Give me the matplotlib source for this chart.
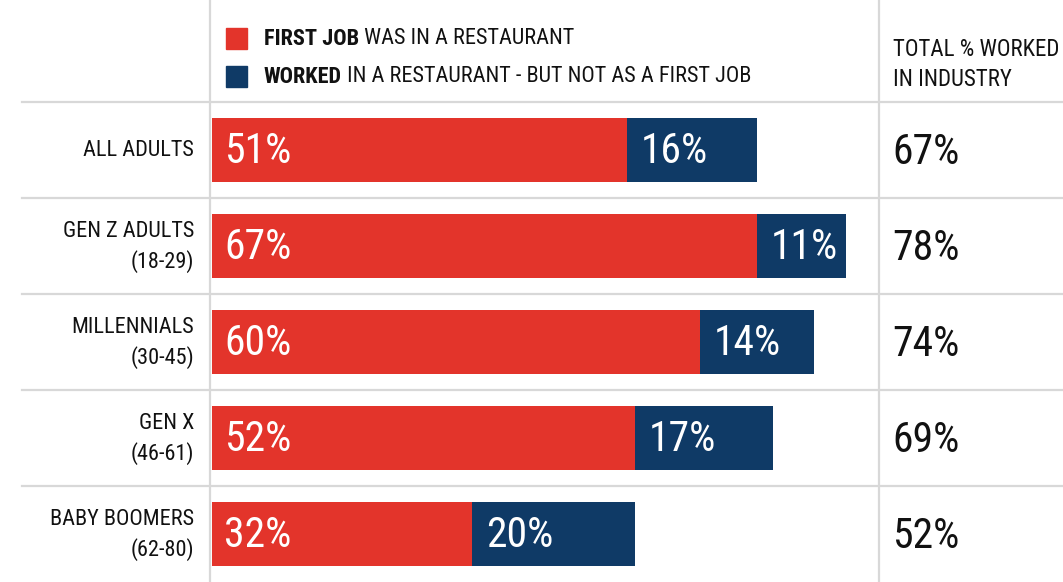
import matplotlib
matplotlib.use("Agg")
import matplotlib.pyplot as plt
from matplotlib import font_manager
from matplotlib.lines import Line2D
from matplotlib.patches import Rectangle

groups = ["ALL ADULTS", "GEN Z ADULTS\n(18-29)", "MILLENNIALS\n(30-45)",
          "GEN X\n(46-61)", "BABY BOOMERS\n(62-80)"]
first_job = [51, 67, 60, 52, 32]
later_job = [16, 11, 14, 17, 20]
total = [67, 78, 74, 69, 52]

RED = "#e3342b"
NAVY = "#0f3a66"
GRID = "#d8d8d8"
INK = "#111111"

# pick the narrowest face we can find
fonts = font_manager.fontManager.ttflist
names = {f.name for f in fonts}
STRETCH = "normal"
FONT = ["Roboto", "DejaVu Sans"]
for cand in ["Liberation Sans Narrow", "Roboto Condensed", "Open Sans Condensed",
             "Noto Sans Condensed", "Arial Narrow"]:
    if cand in names:
        FONT = [cand, "DejaVu Sans"]
        break
else:
    cond = [f for f in fonts if f.stretch in ("condensed", "semi-condensed")
            or "Condensed" in f.fname]
    if cond:
        FONT = [cond[0].name, "DejaVu Sans"]
        STRETCH = "condensed"

W, H = 1063, 582
fig = plt.figure(figsize=(W / 100, H / 100), dpi=100)
fig.patch.set_facecolor("white")
TXT = dict(family=FONT, fontstretch=STRETCH)


def fx(px):
    return px / W


def fy(py):
    return 1 - py / H


# bar panel: five rows from y=102 to the bottom edge
ax = fig.add_axes([fx(212), 0, fx(879) - fx(212), 480 / H])
ax.set_xlim(0, 82)
ax.set_ylim(4.5, -0.5)
ax.axis("off")

rows = range(len(groups))
ax.barh(rows, first_job, height=0.67, color=RED)
ax.barh(rows, later_job, left=first_job, height=0.67, color=NAVY)

for i in rows:
    ax.annotate(f"{first_job[i]}%", (0, i), xytext=(9, -1), textcoords="offset points",
                color="white", fontsize=30, va="center", ha="left", **TXT)
    ax.annotate(f"{later_job[i]}%", (first_job[i], i), xytext=(10, -1),
                textcoords="offset points", color="white", fontsize=30,
                va="center", ha="left", **TXT)

# grid lines
for py in [102, 198, 294, 390, 486]:
    fig.add_artist(Line2D([fx(22), 1], [fy(py), fy(py)], color=GRID, lw=1.6))
for px in [210, 879]:
    fig.add_artist(Line2D([fx(px), fx(px)], [0, 1], color=GRID, lw=1.6))

# row labels and totals
centers = [150, 246, 342, 438, 534]
for i, cy in enumerate(centers):
    fig.text(fx(194), fy(cy + 1), groups[i], ha="right", va="center", fontsize=16,
             linespacing=1.45, color=INK, **TXT)
    fig.text(fx(892), fy(cy + 3), f"{total[i]}%", ha="left", va="center", fontsize=30,
             color=INK, **TXT)

# legend header
renderer = fig.canvas.get_renderer()
legend_rows = [(RED, 39, "FIRST JOB", " WAS IN A RESTAURANT"),
               (NAVY, 77, "WORKED", " IN A RESTAURANT - BUT NOT AS A FIRST JOB")]
for color, cy, bold, rest in legend_rows:
    fig.add_artist(Rectangle((fx(226), fy(cy + 10)), fx(21), 21 / H, color=color,
                             transform=fig.transFigure))
    t = fig.text(fx(264), fy(cy), bold, ha="left", va="center", fontsize=16,
                 fontweight="bold", color=INK, **TXT)
    bb = t.get_window_extent(renderer=renderer)
    fig.text(bb.x1 / fig.bbox.width, fy(cy), rest, ha="left", va="center",
             fontsize=16, color=INK, **TXT)

fig.text(fx(893), fy(50), "TOTAL % WORKED", ha="left", va="center", fontsize=16.5,
         color=INK, **TXT)
fig.text(fx(893), fy(80), "IN INDUSTRY", ha="left", va="center", fontsize=16.5,
         color=INK, **TXT)

fig.savefig("out.png", dpi=100, facecolor="white")
